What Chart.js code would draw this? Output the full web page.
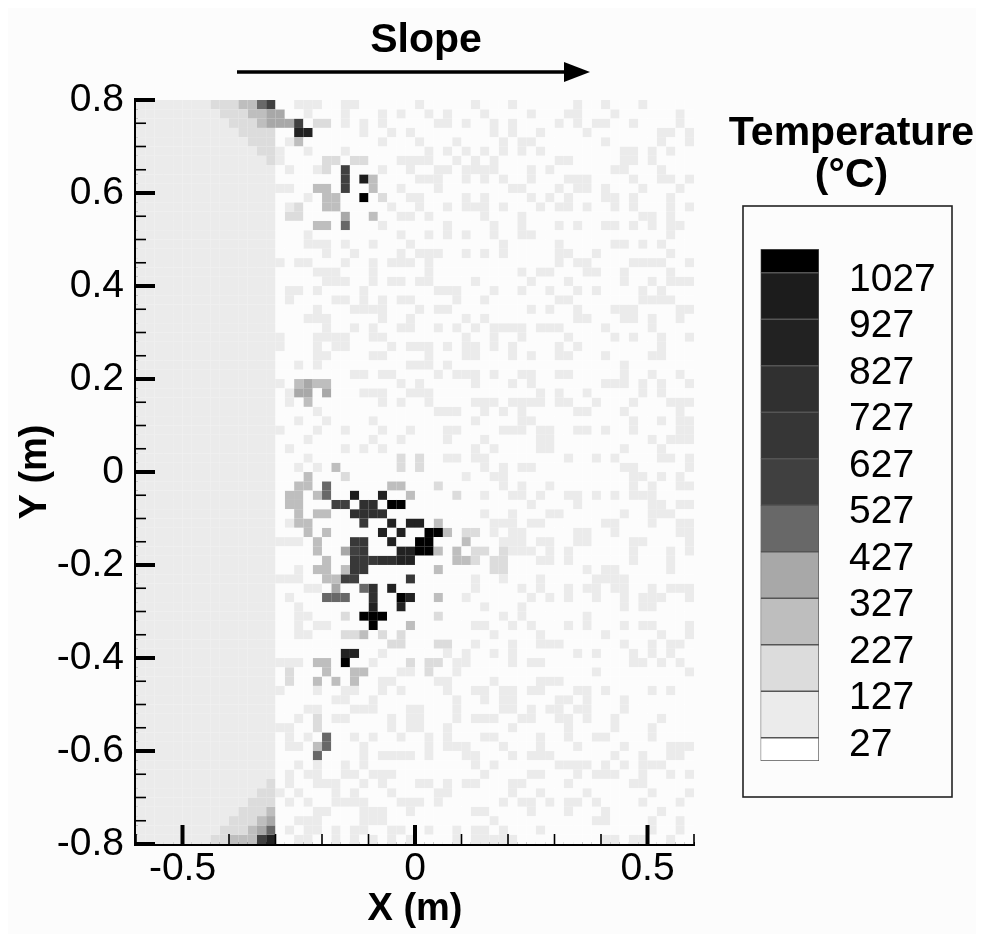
<!DOCTYPE html>
<html><head><meta charset="utf-8">
<script src="https://cdn.jsdelivr.net/npm/chart.js@4"></script>
<style>
html,body{margin:0;padding:0;background:#fff;width:984px;height:942px;overflow:hidden}
#sheet{position:absolute;left:8px;top:8px;width:968px;height:926px;background:#fcfcfc}
canvas{position:absolute}
</style></head><body>
<div id="sheet"></div>
<canvas id="heat" width="984" height="942" style="left:0;top:0;width:984px;height:942px"></canvas>
<canvas id="key" width="264" height="710" style="left:720px;top:100px;width:264px;height:710px"></canvas>
<script>
const legendTicks = [27,127,227,327,427,527,627,727,827,927,1027];
const legendLow  = [-23,27,127,227,327,427,527,627,727,827,927,1027];
const legendHigh = [27,127,227,327,427,527,627,727,827,927,1027,1078];
const bandValue  = [27,77,177,277,377,477,577,677,777,877,977,1077];
const bandColor  = ['#fcfcfc','#ebebeb','#dcdcdc','#bebebe','#a8a8a8','#686868','#404040','#383838','#303030','#222222','#1c1c1c','#000000'];
const legendColor = ['#ffffff','#ebebeb','#dcdcdc','#bebebe','#a8a8a8','#686868','#404040','#363636','#303030','#222222','#1c1c1c','#000000'];
const xMajor = [-0.5,0,0.5];
const nCols = 60, nRows = 80, leftCols = 15;

// columns 15-30 at the 127 band, one list per row
const lightMid = [
[17,18,19,22,23,30],[18,22,26,28],[19,20,22,24,26],[24,27,29],[16,26,30],[15,18,22],[15,28,29,30],[16,19,26,29],[30],[15,16,28],
[18,29,30],[16,27,30],[28,29],[26],[18,28],[18,19,20,22,25,29],[20,23,28,30],[15,17,18,22,25,27,28,29],[19,20,21,25],[20,21,22,25,27,28,30],
[16,17,19,24],[16,21,22,24,26,28,29],[19,23,24,25,26,30],[18,19,20,26,29],[20,23,25,28,29],[15,19,20,21,22,25,26],[15,19,21,22,27,29,30],[19,20,25,26],[17,19,29,30],[23,24,26,27],
[15,28,30],[16,24,25,26,29,30],[16,26,28],[19],[17,20,25],[15,19,22,26,29],[18,25,28],[16,22,24,26],[18],[17,19,21],
[],[],[],[],[],[16],[],[15,16,17],[],[],
[17],[15,16,17],[18,19],[16],[17],[17,18],[17,19,20],[17,18],[],[26],
[15,16,17,25],[28,29],[26,27],[15,19,22,23,26,28],[21,22,25],[18,19,23,24,25,29,30],[17,21,22,27,29,30],[15,16,27,29,30],[16,18,23,25,28],[16,17,24],
[24,26,27,28,29],[17,19,22,24],[16,18,19,22,23,25,26,27],[16,19,20,21,24,26,30],[15,17,21,23,27],[16,18,21,22,23,24,28,29,30],[19,20,24,25,26,29],[17,18,19,24,25,26],[16,18,19,21,23,24,27,28],[17,18,21,23,25,27,29]
];
// columns from 31 to the right edge at the 127 band, counted from column 31
const lightRight = [
[5,9,16,19,23],[0,2,6,11,15,16,20,27],[1,2,4,7,9,14,16,18,19,22,27],[7,9,12,17,25,26,28],[3,8,10,11,19,25,28],[0,2,4,6,8,10,12,21,22,24,26],[0,3,5,7,14,15,21,22,24],[1,2,4,5,6,7,11,13,20,21,25],[0,1,4,6,8,11,15,16,17,22,25,26,28],[1,9,10,14,16,17,19,23,27],
[4,6,11,13,15,19,20,22,26],[2,4,5,6,8,12,14,15,17,20,22,26,28],[0,6,10,23,24,26],[2,7,10,14,16,19,20,22,24,26,27],[0,2,4,7,10,11,26],[8,14,20,21,23,25],[0,1,4,6,8,14,15,18,26],[0,14,16,17,22,23,24,25,28],[0,10,12,13,17,18,21,26],[0,5,11,15,21,24,26,27,28],
[1,2,3,7,10,13,16,18,23,25],[3,6,14,15,23,24,25,26],[1,2,11,13,16,20,21,22,27,28],[4,6,16,17,21,22,24,27],[1,3,5,7,8,9,10,12,13,14,19,24],[4,7,10,15,20,22,25,28],[0,2,4,5,7,9,14,16,25],[0,4,5,9,11,14,15,19,24,25],[0,2,21],[1,3,4,5,7,10,11,14,15,21,24,27],
[5,9,11,19,20,21,23,25,28],[0,12,14,17,23,25],[0,5,6,7,9,10,11,12,14,15,18,22,26,27,28],[1,2,3,6,8,10,16,17,21,27],[5,10,11,22,25,27,28],[2,3,8,9,10,12,13,16,17,19,22,27,28],[2,6,12,13,24,26,27,28],[5,7,12,13,21,25],[2,3,5,6,15,18,20,25,26,28],[6,8,10,11,21,22,28],
[4,7,8,22,23,25,27],[8,10,13,22,24,27,28],[6,9,10,12,15,16,18,20,22,23,24],[11,16,24,25,27,28],[6,9,13,14,21,24,25,26],[7,8,9,11,12,19,20,24,27,28],[4,5,7,9,10,16,17,20,27,28],[8,9,10,12,13,16,17,22,23,28],[8,9,10,11,13,15,22,26,28],[7,8,12,13,15,22,26],
[7,8,17,19,20,26],[5,8,12,18,19,20,21],[5,10,12,15,17,18,20,21,24,26,27,28],[4,11,13,15,18,21,23,24,25,28],[6,10,21,23,24],[8,10,17],[5,6,9,11,15,17,21,23,24,28],[7,12,19,25,28],[5,9,12,13,14,21,24,26,27],[2,4,7,9,16,18,22,24,26],
[3,4,9,11,12,22,23,25,27],[0,3,18,28],[1,2,7,12,13,14],[2,5,6,8,9,11,12,16,17,19,24,26],[3,6,8,9,14,15,17,21],[3,8,9,11,13,14,16,17,21],[3,5,6,7,10,11,14,15,17,20,25],[2,9,15,20,24],[0,2,6,7,12,15,18,19,24],[0,2,3,4,8,12,16,21,26,27,28],
[0,4,5,9,11,12,13,20,23,26,27],[5,7,14,15,16,17,19,21,23,24,25],[6,11,12,16,18,19,20,23,26,28],[0,2,4,5,9,10,15,22,23],[1,2,9,12,17,24,28],[1,8,10,11,13,15,16,18,23,27],[5,6,11,15,19,25],[7,18,19,24,27],[0,3,5,6,8,12,24,27],[3,5,6,7,8,9,19,20,22,23,26]
];
// warmer cells: [row, columns]
const band177 = [[0,[8,9,10]],[1,[9,10,11]],[2,[10,11,12,19,20]],[3,[11,12,13,14]],[4,[12,13,14]],[5,[13,14]],[6,[14,20,21,23,24]],[7,[20]],[10,[26]],[11,[17]],[12,[16,17]],[38,[28,30]],[39,[28,30]],[40,[22]],[41,[32]],[42,[34]],[46,[35,36]],[48,[36,37,39]],[49,[36,38,39]],[50,[38,39]],[55,[22,32]],[57,[22,23,26,28]],[58,[27,28,32,33]],[60,[29,31,32]],[61,[16,31]],[62,[16]],[66,[19]],[67,[19]],[73,[14]],[74,[13,14]],[75,[12,13,14]],[76,[11,12,13]],[77,[10,11,12]],[78,[9,10,11]],[79,[8,9]]];
const band277 = [[0,[11,12]],[1,[12,13]],[2,[13]],[4,[17]],[8,[25]],[9,[19,20,25]],[10,[20,21]],[11,[20,21]],[12,[25]],[13,[19,20]],[30,[17,19,20]],[32,[18]],[39,[21]],[40,[18]],[41,[17,18,27,28]],[42,[16,17,19,29]],[43,[16,17]],[44,[17,19,20]],[45,[17,18,32]],[46,[18,20,33]],[47,[19,35]],[48,[19,32,34]],[49,[20,34,35]],[50,[19,20,22,32]],[51,[20,21]],[53,[32]],[56,[29]],[57,[24]],[60,[19,20]],[61,[20,23,24]],[62,[19,21,23]],[69,[19]],[76,[14]],[77,[13]],[78,[12]],[79,[10,11,12]]];
const band377 = [[1,[14,15]],[2,[14,15,16]],[12,[22]],[30,[18]],[31,[17,18,20]],[48,[22]],[52,[21]],[77,[14]],[78,[13]]];
const band477 = [[0,[13]],[13,[22]],[41,[20]],[42,[20]],[52,[24]],[53,[20,21,22]],[68,[20]],[69,[20]],[70,[19]],[78,[14]]];
const band577 = [[0,[14]],[2,[17]],[7,[22]],[8,[22]],[9,[22]],[43,[21,22]],[48,[23]],[51,[22,23]],[79,[13]]];
const band677 = [[45,[24]],[47,[23,24]],[48,[24]],[49,[23,24,25]],[50,[23,24]],[51,[29]]];
const band777 = [[43,[24,25]],[44,[23,24,25,26]],[49,[26,27]],[52,[25]],[53,[25]]];
const band877 = [[3,[17,18]],[42,[26]],[45,[27,29,30]],[46,[26,28]],[47,[27]],[48,[28,29]],[49,[28,29]],[52,[27]],[53,[29]],[54,[25,28]],[59,[22,23]],[79,[14]]];
const band977 = [[8,[24]],[42,[23]]];
const band1077 = [[10,[24]],[43,[27,28]],[46,[31,32]],[47,[30,31]],[48,[30,31]],[53,[28]],[55,[24,25,26]],[56,[25]],[60,[22]]];

const warmBands = [[2,band177],[3,band277],[4,band377],[5,band477],[6,band577],[7,band677],[8,band777],[9,band877],[10,band977],[11,band1077]];
const grid = [];
for (let r=0;r<nRows;r++){ const row=[]; for(let c=0;c<nCols;c++) row.push(c<leftCols?1:0); grid.push(row); }
lightMid.forEach((cols,r)=>cols.forEach(c=>{grid[r][c]=1;}));
lightRight.forEach((cols,r)=>cols.forEach(k=>{grid[r][31+k]=1;}));
warmBands.forEach(([lvl,list])=>list.forEach(([r,cols])=>cols.forEach(c=>{grid[r][c]=lvl;})));

const cellSets = bandValue.map(()=>[]);
for (let r=0;r<nRows;r++) for(let c=0;c<nCols;c++){
  cellSets[grid[r][c]].push({x:-0.6+0.02*(c+0.5), y:0.8-0.02*(r+0.5), t:bandValue[grid[r][c]]});
}
const FONT='"Liberation Sans", Arial, sans-serif';

const inwardTicks = {
  id:'inwardTicks',
  afterDraw(ch){
    const {ctx,scales:{x,y},chartArea:a}=ch;
    ctx.save(); ctx.strokeStyle='#000';
    x.ticks.forEach(t=>{
      const v=Math.round(t.value*10)/10, major=xMajor.includes(v), px=x.getPixelForValue(t.value);
      ctx.lineWidth=major?4:1.6; ctx.beginPath(); ctx.moveTo(px,a.bottom); ctx.lineTo(px,a.bottom-(major?19:10)); ctx.stroke();
    });
    y.ticks.forEach(t=>{
      const major=Math.round(t.value*20)%4===0, py=y.getPixelForValue(t.value);
      ctx.lineWidth=major?4:1.6; ctx.beginPath(); ctx.moveTo(a.left,py); ctx.lineTo(a.left+(major?19:10),py); ctx.stroke();
    });
    // slope arrow and caption
    ctx.lineWidth=3.5; ctx.beginPath(); ctx.moveTo(237,72); ctx.lineTo(568,72); ctx.stroke();
    ctx.fillStyle='#000'; ctx.beginPath(); ctx.moveTo(590,72); ctx.lineTo(564,62); ctx.lineTo(564,82); ctx.closePath(); ctx.fill();
    ctx.font='bold 41px '+FONT; ctx.textAlign='center'; ctx.textBaseline='alphabetic';
    ctx.fillText('Slope',426,52);
    ctx.restore();
  }
};

new Chart(document.getElementById('heat'),{
  type:'scatter',
  data:{datasets:cellSets.map((cells,i)=>({label:String(bandValue[i]),data:cells,pointStyle:'rect',pointRadius:6.65,pointBorderWidth:0,pointBackgroundColor:bandColor[i],backgroundColor:bandColor[i]}))},
  options:{
    responsive:false,animation:false,events:[],
    layout:{padding:{left:0,top:100,right:290,bottom:0}},
    plugins:{legend:{display:false},tooltip:{enabled:false}},
    scales:{
      x:{type:'linear',min:-0.6,max:0.6,z:1,
        afterFit(s){s.height=98;},
        grid:{display:false,drawTicks:false},
        border:{display:true,color:'#000',width:4},
        title:{display:true,text:'X (m)',color:'#000',font:{family:FONT,size:38,weight:'bold'},padding:{top:0,bottom:10}},
        ticks:{stepSize:0.1,autoSkip:false,maxRotation:0,color:'#000',padding:2,font:{family:FONT,size:39},
          callback(v){const n=Math.round(v*10)/10;return xMajor.includes(n)?String(n):'';}}
      },
      y:{type:'linear',min:-0.8,max:0.8,z:1,
        afterFit(s){s.width=136;},
        grid:{display:false,drawTicks:false},
        border:{display:true,color:'#000',width:4},
        title:{display:true,text:'Y (m)',color:'#000',font:{family:FONT,size:38,weight:'bold'},padding:{top:13,bottom:10}},
        ticks:{stepSize:0.05,autoSkip:false,color:'#000',padding:12,font:{family:FONT,size:39},
          callback(v){const n=Math.round(v*20);return n%4===0?String(Math.round(v*10)/10):'';}}
      }
    }
  },
  plugins:[inwardTicks]
});

const keyBox = {
  id:'keyBox',
  beforeDraw(ch){
    const ctx=ch.ctx; ctx.save(); ctx.strokeStyle='#222'; ctx.lineWidth=1.6;
    ctx.strokeRect(23,106,209,591);
    ctx.fillStyle='#000'; ctx.font='bold 41px '+FONT; ctx.textAlign='center'; ctx.textBaseline='alphabetic';
    ctx.fillText('Temperature',131.5,45);
    ctx.fillText('(°C)',131.5,87);
    ctx.restore();
  }
};
new Chart(document.getElementById('key'),{
  type:'bar',
  data:{labels:['T'],datasets:legendLow.map((lo,i)=>({label:String(lo),data:[[lo,legendHigh[i]]],backgroundColor:legendColor[i],borderColor:'#555',borderWidth:1,borderSkipped:false,grouped:false,barPercentage:1,categoryPercentage:1}))},
  options:{
    responsive:false,animation:false,events:[],
    layout:{padding:{left:40.5,top:149,right:0,bottom:49}},
    plugins:{legend:{display:false},tooltip:{enabled:false}},
    scales:{
      x:{type:'category',display:false,offset:true},
      y:{type:'linear',position:'right',min:-23,max:1078,
        afterFit(s){s.width=165;s.paddingTop=0;s.paddingBottom=0;},
        afterBuildTicks(s){s.ticks=legendTicks.map(v=>({value:v}));},
        grid:{display:false,drawTicks:false},border:{display:false},
        ticks:{color:'#000',padding:30,labelOffset:7.5,autoSkip:false,font:{family:FONT,size:39},callback(v){return String(v);}}
      }
    }
  },
  plugins:[keyBox]
});
</script>
</body></html>
